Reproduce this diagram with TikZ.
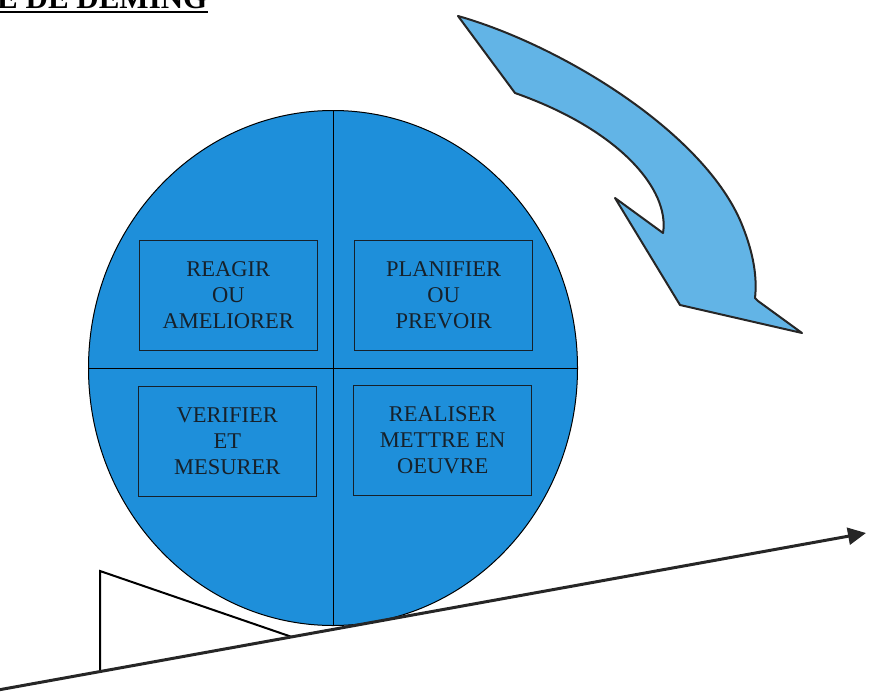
\documentclass[tikz,border=0pt]{standalone}
\usepackage{fontspec}
\setmainfont{Liberation Serif}
\usepackage{xcolor}
\definecolor{cDisc}{HTML}{1E8FDA}
\definecolor{cTurn}{HTML}{62B4E6}
\definecolor{cInk}{HTML}{16212B}
\definecolor{cLine}{HTML}{262626}
\usepackage{tikz}
\usetikzlibrary{positioning,arrows.meta,shapes.geometric,calc}
\tikzset{
  cycle-disc/.style={draw=black,line width=1pt,fill=cDisc,ellipse,
    inner sep=0pt,minimum width=489pt,minimum height=515pt},
  stage-box/.style={draw=cInk,line width=1.3pt,rectangle,inner sep=0pt,
    minimum width=178pt,minimum height=110pt,align=center,text=cInk,
    font=\fontsize{22.5}{26}\selectfont},
  quarter-line/.style={draw=black,line width=1pt},
  base-arrow/.style={-{Triangle[length=18pt,width=17pt]},line width=3pt,draw=cLine},
  wedge-line/.style={draw=black,line width=2pt},
  turn-arrow/.style={draw=cLine,line width=2pt,fill=cTurn,line join=round},
  title-text/.style={font=\fontsize{31}{32}\selectfont\bfseries,inner sep=0pt},
  title-rule/.style={draw=black,line width=2pt},
}
\begin{document}
\begin{tikzpicture}[x=1pt,y=-1pt]
  \useasboundingbox (0,0) rectangle (869,693);
  \clip (0,0) rectangle (869,693);
  % titre coupe en haut a gauche
  \node[title-text,anchor=base west] (title) at (-3,9) {E DE DEMING};
  \draw[title-rule] ([yshift=-3.5pt]title.base west) -- ([yshift=-3.5pt]title.base east);
  % roue de Deming
  \node[cycle-disc] (cycle) at (333,368) {};
  \draw[quarter-line] (cycle.north) -- (cycle.south);
  \draw[quarter-line] (cycle.west) -- (cycle.east);
  \node[stage-box,above left=17pt and 15pt of cycle.center] (act) {REAGIR\\OU\\AMELIORER};
  \node[stage-box,above right=17pt and 21pt of cycle.center] (plan) {PLANIFIER\\OU\\PREVOIR};
  \node[stage-box,below left=18pt and 16pt of cycle.center] (check) {VERIFIER\\ET\\MESURER};
  \node[stage-box,below right=17pt and 20pt of cycle.center] (do) {REALISER\\METTRE EN\\OEUVRE};
  % fleche de rotation
  \path[turn-arrow] (458,16) .. controls (560,45) and (700,130) .. (740,220)
    .. controls (755,255) and (757,280) .. (755,298) -- (758,301) -- (802,333)
    -- (680,305) -- (615,198) -- (663,233)
    .. controls (670,190) and (620,130) .. (515,93) -- cycle;
  % pente et cale
  \coordinate (base-start) at (-2,690);
  \coordinate (base-end) at (866,533);
  \coordinate (wedge-top) at (100,571);
  \coordinate (wedge-foot) at (100,672);
  \coordinate (wedge-tip) at (292,637);
  \draw[wedge-line] (wedge-tip) -- (wedge-top) -- (wedge-foot);
  \draw[base-arrow] (base-start) -- (base-end);
\end{tikzpicture}
\end{document}
